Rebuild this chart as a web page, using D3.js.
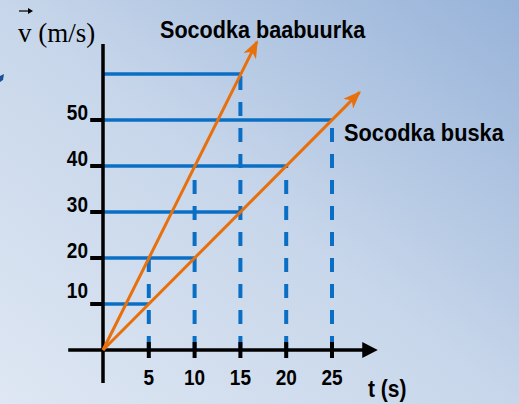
<!DOCTYPE html>
<meta charset="utf-8">
<style>
body { margin: 0; }
text.sans { font-family: "Liberation Sans", Arial, sans-serif; font-weight: bold; fill: #000; }
text.serif { font-family: "Liberation Serif", "Times New Roman", serif; fill: #000; }
</style>
<svg width="519" height="404"></svg>
<script src="https://d3js.org/d3.v7.min.js"></script>
<script>

// speed (m/s) against time (s)
var times = [5, 10, 15, 20, 25];
var speedTicks = [10, 20, 30, 40, 50];
var truck = [[0, 0], [16.8, 67]];   // Socodka baabuurka, 4 m/s per s
var bus = [[0, 0], [28, 56]];       // Socodka buska, 2 m/s per s
// horizontal guides: speed -> time reached
var hGuides = [[10, 5], [20, 10], [30, 15], [40, 20], [50, 25], [60, 15]];
// vertical guides: time -> speed reached
var vGuides = [[5, 20], [10, 40], [15, 60], [20, 40], [25, 50]];

var svg = d3.select("svg"),
    width = +svg.attr("width"),
    height = +svg.attr("height");

var x = d3.scaleLinear().domain([0, 25]).range([103, 332]),
    y = d3.scaleLinear().domain([0, 60]).range([350, 74]);

var blue = "#0a6fc4", orange = "#e8700c";

// background
var defs = svg.append("defs");
var grad = defs.append("linearGradient").attr("id", "bg")
    .attr("x1", 0).attr("y1", 1).attr("x2", 1).attr("y2", 0);
grad.append("stop").attr("offset", 0).attr("stop-color", "#dee7f3");
grad.append("stop").attr("offset", 0.5).attr("stop-color", "#c7d6ea");
grad.append("stop").attr("offset", 1).attr("stop-color", "#97b3d9");
svg.append("rect").attr("width", width).attr("height", height).attr("fill", "url(#bg)");

defs.append("marker").attr("id", "head")
    .attr("markerUnits", "userSpaceOnUse")
    .attr("viewBox", "0 -7 18 14")
    .attr("refX", 16).attr("refY", 0)
    .attr("markerWidth", 18).attr("markerHeight", 14)
    .attr("orient", "auto")
  .append("path")
    .attr("d", "M0,-7L18,0L0,7L5,0Z")
    .attr("fill", orange);

// stray mark at the left edge
svg.append("path").attr("d", "M0,76L4,74L3,80L0,82Z").attr("fill", "#1d4f96");

// guides
svg.append("g").selectAll("line").data(hGuides).join("line")
    .attr("x1", x(0)).attr("x2", function(d) { return x(d[1]); })
    .attr("y1", function(d) { return y(d[0]); }).attr("y2", function(d) { return y(d[0]); })
    .attr("stroke", blue).attr("stroke-width", 3.5);

svg.append("g").selectAll("line").data(vGuides).join("line")
    .attr("x1", function(d) { return x(d[0]); }).attr("x2", function(d) { return x(d[0]); })
    .attr("y1", y(0)).attr("y2", function(d) { return y(d[1]); })
    .attr("stroke", blue).attr("stroke-width", 4)
    .attr("stroke-dasharray", "14,12");

// axes
var axes = svg.append("g").attr("stroke", "#000");
axes.append("line")
    .attr("x1", x(0)).attr("x2", x(0))
    .attr("y1", y(66.5)).attr("y2", y(-7.2))
    .attr("stroke-width", 3.5);
axes.append("line")
    .attr("x1", x(-3.8)).attr("x2", x(28.5))
    .attr("y1", y(0)).attr("y2", y(0))
    .attr("stroke-width", 3.5);
svg.append("path")
    .attr("d", "M" + x(28.3) + "," + (y(0) - 8) + "L" + x(30) + "," + y(0) + "L" + x(28.3) + "," + (y(0) + 8) + "Z")
    .attr("fill", "#000");

axes.selectAll(".xt").data(times).join("line").attr("class", "xt")
    .attr("x1", function(d) { return x(d); }).attr("x2", function(d) { return x(d); })
    .attr("y1", y(0) - 8).attr("y2", y(0) + 8)
    .attr("stroke-width", 4);
axes.selectAll(".yt").data(speedTicks).join("line").attr("class", "yt")
    .attr("x1", x(-1.4)).attr("x2", x(0))
    .attr("y1", function(d) { return y(d); }).attr("y2", function(d) { return y(d); })
    .attr("stroke-width", 4);

// tick labels
svg.selectAll(".xl").data(times).join("text").attr("class", "sans xl")
    .attr("text-anchor", "middle")
    .attr("transform", function(d) { return "translate(" + x(d) + ",385) scale(1,1.12)"; })
    .style("font-size", "19px")
    .text(function(d) { return d; });

var nudge = { 10: -6 };
svg.selectAll(".yl").data(speedTicks).join("text").attr("class", "sans yl")
    .attr("text-anchor", "end")
    .attr("transform", function(d) { return "translate(88," + (y(d) + (nudge[d] || 0)) + ") scale(1,1.15)"; })
    .style("font-size", "19px")
    .text(function(d) { return d; });

// motion lines
var line = d3.line().x(function(d) { return x(d[0]); }).y(function(d) { return y(d[1]); });
svg.selectAll(".motion").data([truck, bus]).join("path").attr("class", "motion")
    .attr("d", line)
    .attr("fill", "none")
    .attr("stroke", orange).attr("stroke-width", 3)
    .attr("marker-end", "url(#head)");

// titles
svg.append("text").attr("class", "serif")
    .attr("x", 18).attr("y", 42)
    .style("font-size", "27px")
    .text("v (m/s)");
svg.append("line").attr("x1", 19).attr("x2", 31).attr("y1", 11).attr("y2", 11)
    .attr("stroke", "#000").attr("stroke-width", 1.2);
svg.append("path").attr("d", "M28,8L33,11L28,14Z").attr("fill", "#000");

svg.append("text").attr("class", "sans")
    .attr("transform", "translate(160,38) scale(1,1.12)")
    .style("font-size", "21.6px")
    .text("Socodka baabuurka");
svg.append("text").attr("class", "sans")
    .attr("transform", "translate(344,141) scale(1,1.12)")
    .style("font-size", "21.8px")
    .text("Socodka buska");
svg.append("text").attr("class", "sans")
    .attr("transform", "translate(368,397) scale(1,1.1)")
    .style("font-size", "21px")
    .text("t (s)");

</script>
